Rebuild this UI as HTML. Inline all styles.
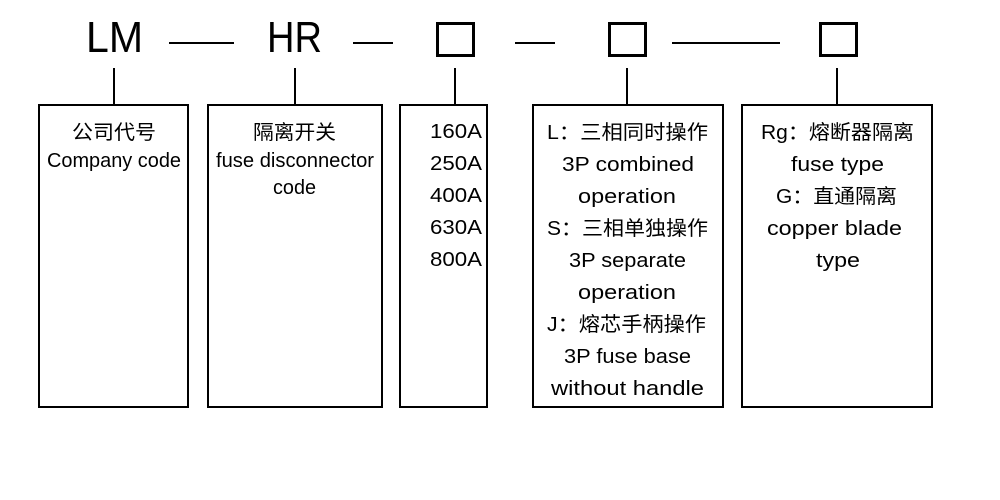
<!DOCTYPE html>
<html><head><meta charset="utf-8"><style>
html,body{margin:0;padding:0;background:#fff;}
svg{display:block;}
text{font-family:"Liberation Sans","Noto Sans CJK SC",sans-serif;font-size:20px;fill:#000;}
</style></head><body>
<svg width="1000" height="500" viewBox="0 0 1000 500" xmlns="http://www.w3.org/2000/svg">
<text x="86" y="52" textLength="57" lengthAdjust="spacingAndGlyphs" style="font-size:44px">LM</text>
<text x="267" y="52" textLength="55" lengthAdjust="spacingAndGlyphs" style="font-size:44px">HR</text>
<g stroke="#000" stroke-width="2" fill="none">
<line x1="169" y1="43" x2="234" y2="43"/>
<line x1="353" y1="43" x2="393" y2="43"/>
<line x1="515" y1="43" x2="555" y2="43"/>
<line x1="672" y1="43" x2="780" y2="43"/>
<line x1="114" y1="68" x2="114" y2="105"/>
<line x1="295" y1="68" x2="295" y2="105"/>
<line x1="455" y1="68" x2="455" y2="105"/>
<line x1="627" y1="68" x2="627" y2="105"/>
<line x1="837" y1="68" x2="837" y2="105"/>
<rect x="39" y="105" width="149" height="302"/>
<rect x="208" y="105" width="174" height="302"/>
<rect x="400" y="105" width="87" height="302"/>
<rect x="533" y="105" width="190" height="302"/>
<rect x="742" y="105" width="190" height="302"/>
</g>
<g stroke="#000" stroke-width="3" fill="none">
<rect x="437.5" y="23.5" width="36" height="32"/>
<rect x="609.5" y="23.5" width="36" height="32"/>
<rect x="820.5" y="23.5" width="36" height="32"/>
</g>
<g>
<text x="72" y="139" textLength="84" lengthAdjust="spacingAndGlyphs">公司代号</text>
<text x="47" y="167" textLength="134" lengthAdjust="spacingAndGlyphs">Company code</text>
<text x="253" y="139" textLength="83" lengthAdjust="spacingAndGlyphs">隔离开关</text>
<text x="216" y="167" textLength="158" lengthAdjust="spacingAndGlyphs">fuse disconnector</text>
<text x="273" y="194" textLength="43" lengthAdjust="spacingAndGlyphs">code</text>
<text x="430" y="138" textLength="52" lengthAdjust="spacingAndGlyphs">160A</text>
<text x="430" y="170" textLength="52" lengthAdjust="spacingAndGlyphs">250A</text>
<text x="430" y="202" textLength="52" lengthAdjust="spacingAndGlyphs">400A</text>
<text x="430" y="234" textLength="52" lengthAdjust="spacingAndGlyphs">630A</text>
<text x="430" y="266" textLength="52" lengthAdjust="spacingAndGlyphs">800A</text>
<text x="547" y="139" textLength="161" lengthAdjust="spacingAndGlyphs">L：三相同时操作</text>
<text x="562" y="171" textLength="132" lengthAdjust="spacingAndGlyphs">3P combined</text>
<text x="578" y="203" textLength="98" lengthAdjust="spacingAndGlyphs">operation</text>
<text x="547" y="235" textLength="161" lengthAdjust="spacingAndGlyphs">S：三相单独操作</text>
<text x="569" y="267" textLength="117" lengthAdjust="spacingAndGlyphs">3P separate</text>
<text x="578" y="299" textLength="98" lengthAdjust="spacingAndGlyphs">operation</text>
<text x="547" y="331" textLength="159" lengthAdjust="spacingAndGlyphs">J：熔芯手柄操作</text>
<text x="564" y="363" textLength="127" lengthAdjust="spacingAndGlyphs">3P fuse base</text>
<text x="551" y="395" textLength="153" lengthAdjust="spacingAndGlyphs">without handle</text>
<text x="761" y="139" textLength="153" lengthAdjust="spacingAndGlyphs">Rg：熔断器隔离</text>
<text x="791" y="171" textLength="93" lengthAdjust="spacingAndGlyphs">fuse type</text>
<text x="776" y="203" textLength="121" lengthAdjust="spacingAndGlyphs">G：直通隔离</text>
<text x="767" y="235" textLength="135" lengthAdjust="spacingAndGlyphs">copper blade</text>
<text x="816" y="267" textLength="44" lengthAdjust="spacingAndGlyphs">type</text>
</g>
</svg>
</body></html>
